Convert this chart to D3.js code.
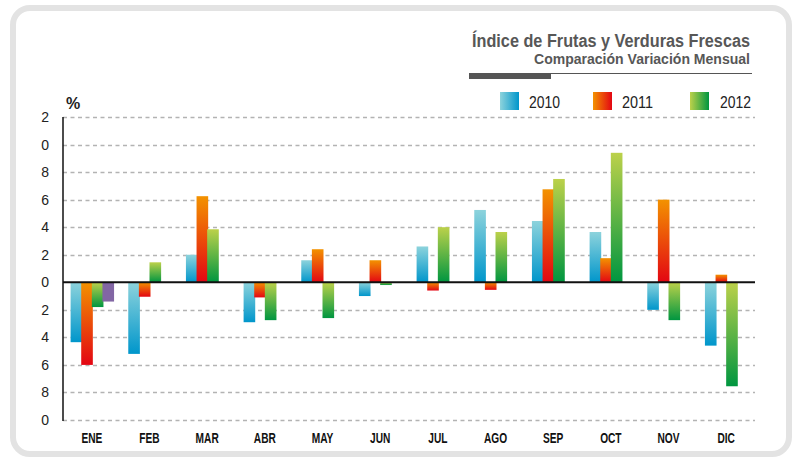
<!DOCTYPE html>
<html>
<head>
<meta charset="utf-8">
<script src="https://cdn.jsdelivr.net/npm/d3@7/dist/d3.min.js"></script>
<style>
  html, body { margin: 0; padding: 0; background: #fff; }
  svg { display: block; }
</style>
</head>
<body>
<svg id="chart" width="796" height="457"></svg>
<script>
/* Índice de Frutas y Verduras Frescas — grouped bars, monthly variation */

const months = ['ENE', 'FEB', 'MAR', 'ABR', 'MAY', 'JUN', 'JUL', 'AGO', 'SEP', 'OCT', 'NOV', 'DIC'];
const v2010 = [-4.35, -5.2, 2.0, -2.9, 1.6, -1.0, 2.6, 5.25, 4.45, 3.65, -2.0, -4.6];
const v2011 = [-6.0, -1.05, 6.25, -1.1, 2.4, 1.6, -0.6, -0.55, 6.75, 1.75, 6.0, 0.55];
const v2012 = [-1.8, 1.45, 3.85, -2.75, -2.6, -0.2, 4.0, 3.65, 7.5, 9.4, -2.75, -7.55];
const vExtra = [-1.4, null, null, null, null, null, null, null, null, null, null, null];
const tickValues = [12, 10, 8, 6, 4, 2, 0, -2, -4, -6, -8, -10];
const tickLabels = ['2', '0', '8', '6', '4', '2', '0', '2', '4', '6', '8', '0'];
const legendLabels = ['2010', '2011', '2012'];

const series = [
    { key: 's2010', values: v2010, light: '#8dd3dc', dark: '#0096cb' },
    { key: 's2011', values: v2011, light: '#f39200', dark: '#e30613' },
    { key: 's2012', values: v2012, light: '#bcd14a', dark: '#009640' },
    { key: 'sExtra', values: vExtra, light: '#8266a4', dark: '#8266a4' }
];

const svg = d3.select('#chart');
const defs = svg.append('defs');
const SANS = "'Liberation Sans', Arial, sans-serif";

// squeeze text horizontally to mimic the condensed face of the original
function condense(sel, factor) {
    sel.each(function() {
        const w = this.getComputedTextLength();
        d3.select(this).attr('textLength', w * factor).attr('lengthAdjust', 'spacingAndGlyphs');
    });
}

// Gradients: vertical for bars, horizontal for legend swatches
series.forEach(s => {
    const gv = defs.append('linearGradient').attr('id', 'gv-' + s.key)
        .attr('x1', 0).attr('y1', 0).attr('x2', 0).attr('y2', 1);
    gv.append('stop').attr('offset', '0%').attr('stop-color', s.light);
    gv.append('stop').attr('offset', '100%').attr('stop-color', s.dark);
    const gh = defs.append('linearGradient').attr('id', 'gh-' + s.key)
        .attr('x1', 0).attr('y1', 0).attr('x2', 1).attr('y2', 0);
    gh.append('stop').attr('offset', '0%').attr('stop-color', s.light);
    gh.append('stop').attr('offset', '100%').attr('stop-color', s.dark);
});

// Rounded frame
svg.append('rect')
    .attr('x', 13).attr('y', 8).attr('width', 776).attr('height', 446)
    .attr('rx', 17).attr('ry', 17)
    .attr('fill', '#fff').attr('stroke', '#e3e3e3').attr('stroke-width', 6);

// Scales
const plot = { left: 63, right: 755, top: 117, bottom: 420 };
const x = d3.scaleBand().domain(months).range([plot.left, plot.right]);
const slot = d3.scaleBand().domain(d3.range(series.length))
    .range([7.6, x.bandwidth() - 7.6]);
const y = d3.scaleLinear().domain([-10, 12]).range([plot.bottom, plot.top]);

// Grid
svg.append('g').selectAll('line')
    .data(tickValues.filter(v => v !== 0))
    .enter().append('line')
    .attr('x1', plot.left).attr('x2', plot.right)
    .attr('y1', d => Math.round(y(d)) + 0.5).attr('y2', d => Math.round(y(d)) + 0.5)
    .attr('stroke', '#b3b3b3').attr('stroke-width', 1.3)
    .attr('stroke-dasharray', '4,3.5');

// Y tick labels (truncated as in the original)
const yAxis = d3.axisLeft(y)
    .tickValues(tickValues)
    .tickFormat((d, i) => tickLabels[i])
    .tickSize(0).tickPadding(14);
const yg = svg.append('g').attr('transform', `translate(${plot.left},0)`).call(yAxis);
yg.select('.domain').remove();
yg.selectAll('text')
    .attr('font-family', SANS)
    .attr('font-size', 14).attr('fill', '#222');

// Bars
const rows = [];
series.forEach((s, si) => {
    s.values.forEach((v, mi) => {
        if (v === null) return;
        rows.push({ s, si, month: months[mi], v });
    });
});

svg.append('g').selectAll('rect')
    .data(rows)
    .enter().append('rect')
    .attr('x', d => x(d.month) + slot(d.si))
    .attr('width', slot.bandwidth() + 1)
    .attr('y', d => y(Math.max(0, d.v)))
    .attr('height', d => Math.abs(y(d.v) - y(0)))
    .attr('fill', d => `url(#gv-${d.s.key})`);

// Y axis line and zero line
svg.append('line')
    .attr('x1', plot.left).attr('x2', plot.left)
    .attr('y1', plot.top).attr('y2', plot.bottom + 1)
    .attr('stroke', '#111').attr('stroke-width', 1.5);
svg.append('line')
    .attr('x1', plot.left).attr('x2', plot.right)
    .attr('y1', y(0)).attr('y2', y(0))
    .attr('stroke', '#111').attr('stroke-width', 1.8);

// X labels
const xAxis = d3.axisBottom(x).tickSize(0).tickPadding(0);
const xg = svg.append('g').attr('transform', `translate(0,${plot.bottom})`).call(xAxis);
xg.select('.domain').remove();
xg.selectAll('text')
    .attr('dy', null).attr('y', 22.5)
    .attr('font-family', SANS)
    .attr('font-weight', 'bold').attr('font-size', 14.5).attr('fill', '#111')
    .call(condense, 0.7);

// "%" unit
svg.append('text')
    .attr('x', 66).attr('y', 109)
    .attr('font-family', SANS)
    .attr('font-weight', 'bold').attr('font-size', 16).attr('fill', '#222')
    .text('%');

// Title block
svg.append('text')
    .attr('x', 750).attr('y', 47).attr('text-anchor', 'end')
    .attr('font-family', SANS).attr('font-weight', 'bold')
    .attr('font-size', 17.5).attr('fill', '#575757')
    .attr('textLength', 278).attr('lengthAdjust', 'spacingAndGlyphs')
    .text('Índice de Frutas y Verduras Frescas');
svg.append('text')
    .attr('x', 750).attr('y', 64).attr('text-anchor', 'end')
    .attr('font-family', SANS).attr('font-weight', 'bold')
    .attr('font-size', 14).attr('fill', '#575757')
    .attr('textLength', 216).attr('lengthAdjust', 'spacingAndGlyphs')
    .text('Comparación Variación Mensual');
svg.append('line')
    .attr('x1', 469).attr('x2', 752).attr('y1', 73.5).attr('y2', 73.5)
    .attr('stroke', '#555').attr('stroke-width', 1);
svg.append('rect')
    .attr('x', 469).attr('y', 73).attr('width', 82).attr('height', 6)
    .attr('fill', '#555');

// Legend
const legendX = [500, 593, 690];
const lg = svg.append('g').selectAll('g')
    .data(legendLabels)
    .enter().append('g')
    .attr('transform', (d, i) => `translate(${legendX[i]},92)`);
lg.append('rect')
    .attr('width', 19).attr('height', 18)
    .attr('fill', (d, i) => `url(#gh-${series[i].key})`);
lg.append('text')
    .attr('x', (d, i) => i === 2 ? 30 : 29).attr('y', 16)
    .attr('font-family', SANS)
    .attr('font-size', 16).attr('fill', '#222')
    .attr('textLength', 31).attr('lengthAdjust', 'spacingAndGlyphs')
    .text(d => d);
</script>
</body>
</html>
